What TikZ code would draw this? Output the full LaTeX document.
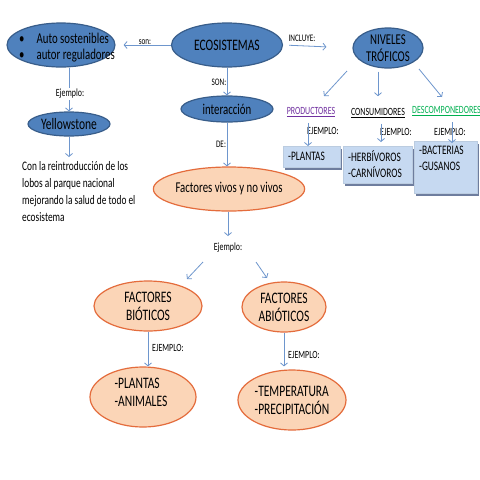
\documentclass[tikz,border=0pt]{standalone}
\usepackage{fontspec}
\setmainfont{Carlito}[FakeStretch=0.72]
\usetikzlibrary{shapes.geometric,arrows.meta,backgrounds}
\definecolor{eblue}{RGB}{79,129,189}
\definecolor{eborder}{RGB}{56,93,138}
\definecolor{ofill}{RGB}{251,213,183}
\definecolor{oborder}{RGB}{228,108,60}
\definecolor{bfill}{RGB}{198,217,241}
\definecolor{bshadow}{RGB}{110,125,158}
\definecolor{acol}{RGB}{110,150,205}
\definecolor{purp}{RGB}{112,48,160}
\definecolor{gree}{RGB}{0,176,80}
\begin{document}
\begin{tikzpicture}[x=1pt,y=-1pt,
 blueell/.style={ellipse, draw=eborder, fill=eblue, line width=1.2pt, inner sep=0pt},
 orell/.style={ellipse, draw=oborder, fill=ofill, line width=1.2pt, inner sep=0pt},
 arr/.style={draw=acol, line width=0.8pt, -{Straight Barb[length=3pt,width=7pt]}},
 lbl/.style={inner sep=0pt, font=\fontsize{10}{11}\selectfont},
 lblb/.style={inner sep=0pt, font=\fontsize{11}{12}\selectfont},
 big/.style={inner sep=0pt, align=center, font=\fontsize{15}{17}\selectfont},
 huge/.style={inner sep=0pt, align=center, font=\fontsize{16}{18}\selectfont},
 bx/.style={fill=bfill, draw=bfill!85!gray, line width=0.4pt, inner sep=0pt, anchor=north west},
 bxt/.style={inner sep=0pt, anchor=west, align=left, font=\fontsize{13}{16}\selectfont},
 shad/.style={fill=bshadow},
]
\begin{pgfonlayer}{background}
\fill[white] (0,0) rectangle (480,480);
\end{pgfonlayer}
\useasboundingbox (0,0) rectangle (480,480);

% top row
\node[blueell, minimum width=108pt, minimum height=44pt] (auto) at (61,45) {};
\node[big, anchor=west, align=left, font=\fontsize{15}{16}\selectfont] (autotxt) at (19,48)
  {\textbullet\hspace{12pt}Auto sostenibles\\ \textbullet\hspace{12pt}autor reguladores};
\node[blueell, huge, minimum width=111pt, minimum height=44pt] (eco) at (227,45) {ECOSISTEMAS};
\node[blueell, big, minimum width=70pt, minimum height=40pt] (niv) at (388,48) {NIVELES\\TRÓFICOS};

\draw[arr, shorten >=8pt] (eco.west) -- (auto.east);
\node[lbl] (son1) at (145,42) {son:};
\draw[arr, shorten <=6pt, shorten >=26pt] (eco.east) -- (niv.west);
\node[lbl] (incl) at (302,38) {INCLUYE:};

% left branch
\node[blueell, huge, minimum width=82pt, minimum height=24pt] (yel) at (69,124) {Yellowstone};
\draw[arr] (yel.north |- auto.south) -- (yel.north);
\node[lblb, fill=white, inner sep=1pt] (ej1) at (70,94) {Ejemplo:};
\node[anchor=north west, align=left, inner sep=0pt, font=\fontsize{13}{17}\selectfont] (lobos) at (22,161)
  {Con la reintroducción de los\\lobos al parque nacional\\mejorando la salud de todo el\\ecosistema};
\draw[arr, shorten >=4pt] (yel.south) -- (yel.south |- lobos.north);

% center
\node[blueell, big, minimum width=92pt, minimum height=26pt] (inter) at (227,109) {interacción};
\draw[arr] (eco.south) -- (inter.north);
\node[lbl] (son2) at (219,82) {SON:};
\node[orell, big, minimum width=124pt, minimum height=44pt] (fviv) at (229,189) {Factores vivos y no vivos};
\draw[arr] (inter.south) -- (inter.south |- fviv.north);
\node[lbl] (de) at (221,144) {DE:};

\node[lblb] (ej2) at (228,248) {Ejemplo:};
\draw[arr, shorten >=7pt] (fviv.south -| ej2.north) -- (ej2.north);

\node[orell, huge, minimum width=108pt, minimum height=50pt] (bio) at (148,306) {FACTORES\\BIÓTICOS};
\node[orell, huge, minimum width=84pt, minimum height=50pt] (abio) at (284,307) {FACTORES\\ABIÓTICOS};
\coordinate (eL1) at (203,262);
\coordinate (eL2) at (187,279);
\coordinate (eR1) at (256,262);
\coordinate (eR2) at (267,278);
\draw[arr] (eL1) -- (eL2);
\draw[arr] (eR1) -- (eR2);

\node[orell, minimum width=106pt, minimum height=60pt] (plan) at (143,397) {};
\node[huge, align=left] (plantxt) at (141,392) {-PLANTAS\\-ANIMALES};
\node[orell, huge, align=left, minimum width=108pt, minimum height=60pt] (temp) at (292,400) {-TEMPERATURA\\-PRECIPITACIÓN};
\draw[arr] (bio.south) -- (bio.south |- plan.north);
\node[lblb] (ejb) at (168,348) {EJEMPLO:};
\draw[arr, shorten >=3pt] (abio.south) -- (abio.south |- temp.north);
\node[lblb] (ejab) at (304,355) {EJEMPLO:};

% trophic levels
\node[lblb, text=purp] (prod) at (311,112) {\underline{PRODUCTORES}};
\node[lblb] (cons) at (378,113) {\underline{CONSUMIDORES}};
\node[lblb, text=gree, anchor=west] (desc) at (412,111) {\underline{DESCOMPONEDORES}};
\coordinate (n1a) at (347,71);
\coordinate (n1b) at (324,96);
\coordinate (n3a) at (419,69);
\coordinate (n3b) at (442,97);
\draw[arr] (n1a) -- (n1b);
\draw[arr, shorten <=3pt, shorten >=12pt] (niv.south -| cons.north) -- (cons.north);
\draw[arr] (n3a) -- (n3b);

\node[bx, minimum width=57pt, minimum height=21pt] (pbox) at (283,146) {};
\node[bx, minimum width=69pt, minimum height=37pt] (hbox) at (343,146) {};
\node[bx, minimum width=63pt, minimum height=52pt] (bbox) at (414,141) {};
\begin{pgfonlayer}{background}
\fill[shad] ([shift={(2pt,-2.5pt)}]pbox.south west) rectangle ([shift={(2pt,-2.5pt)}]pbox.north east);
\fill[shad] ([shift={(2pt,-2.5pt)}]hbox.south west) rectangle ([shift={(2pt,-2.5pt)}]hbox.north east);
\fill[shad] ([shift={(2pt,-2.5pt)}]bbox.south west) rectangle ([shift={(2pt,-2.5pt)}]bbox.north east);
\end{pgfonlayer}
\node[bxt] (ptxt) at (288,156) {-PLANTAS};
\node[bxt] (htxt) at (348,164) {-HERBÍVOROS\\-CARNÍVOROS};
\node[bxt] (btxt) at (419,158.5) {-BACTERIAS\\-GUSANOS};

\node[lblb] (ejp) at (323,131) {EJEMPLO:};
\node[lblb] (ejc) at (396,132) {EJEMPLO:};
\node[lblb] (ejd) at (450,132) {EJEMPLO:};
\draw[arr, shorten <=6pt] ([xshift=-3pt]prod.south) -- ([xshift=-3pt]prod.south |- pbox.north);
\draw[arr, shorten <=6pt, shorten >=4pt] ([xshift=3pt]cons.south) -- ([xshift=3pt]cons.south |- hbox.north);
\draw[arr] ([xshift=2pt,yshift=19pt]bbox.north -| ejd.north) coordinate (dtop) -- ([yshift=-2pt]dtop |- bbox.north);
\end{tikzpicture}
\end{document}
